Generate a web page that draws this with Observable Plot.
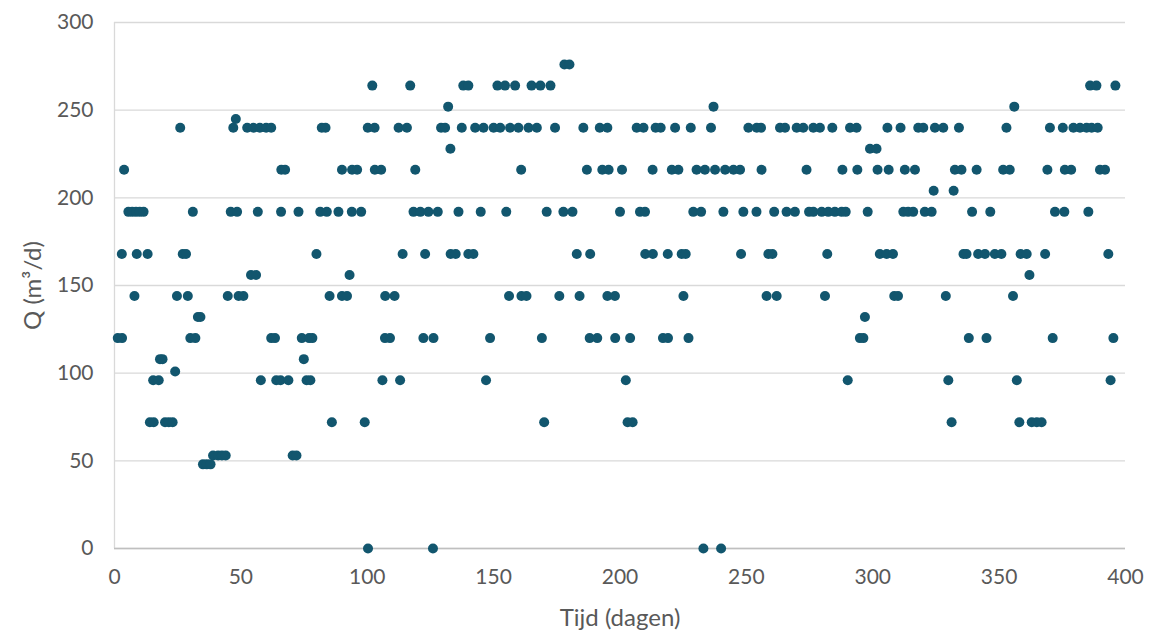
<!DOCTYPE html>
<html>
<head>
<meta charset="utf-8">
<script src="https://cdn.jsdelivr.net/npm/d3@7"></script>
<script src="https://cdn.jsdelivr.net/npm/@observablehq/plot@0.6"></script>
<style>
  html, body { margin: 0; padding: 0; background: #ffffff; }
  #chart { width: 1150px; height: 636px; }
</style>
</head>
<body>
<div id="chart"></div>
<script>
// Tick labels
const xTicks = [0, 50, 100, 150, 200, 250, 300, 350, 400];
const yTicks = [0, 50, 100, 150, 200, 250, 300];
const xTitle = "Tijd (dagen)";
const yTitle = "Q (m³/d)";

// Days (tijd) for each discharge level (Q in m3/d)
const d276 = [178, 180];
const d264 = [102, 117, 138, 140, 151.5, 154.5, 158.5, 165, 168.5, 172.5, 386, 388.5, 396];
const d252 = [132, 237, 356];
const d245 = [48];
const d240 = [26, 47, 52.5, 55, 57.5, 60, 62, 82, 83.5, 100.2, 102.9, 112.4, 115.7, 129.2, 130.8, 137.4,
  142.7, 146, 150, 152.6, 156.5, 159.8, 163.8, 167.1, 174.3, 185.5, 192, 195, 206.6, 209.3, 214.1, 216.1,
  221.8, 228, 236, 250.8, 254.1, 255.8, 263.3, 265.3, 269.9, 272.5, 276.5, 279.1, 284, 291, 293.6, 305.8,
  311, 318, 320, 324.6, 327.9, 334.1, 352.9, 370.1, 375.2, 379.4, 382, 384.6, 386.6, 389];
const d228 = [132.9, 298.9, 301.5];
const d216 = [3.8, 66, 67.5, 90, 94, 96, 103, 105.5, 119, 160.9, 186.9, 193, 195.5, 200.8, 212.9, 220.5,
  223.1, 230.3, 233.6, 237.6, 241.6, 244.9, 247.5, 256, 273.8, 288, 293.9, 301.9, 306.3, 312.7, 316.7,
  332.5, 335.1, 341.1, 351.6, 354.2, 369.1, 376, 378.5, 389.9, 391.9];
const d204 = [324.1, 332];
const d192 = [5.5, 7, 8.5, 10, 11.5, 31, 46, 48.5, 56.7, 65.9, 72.8, 81.4, 84, 88.6, 93.9, 97.6, 118.3, 121,
  124.2, 127.9, 136.1, 144.9, 155, 171, 177.6, 181.2, 200, 207.9, 209.9, 229, 232.1, 240.9, 248.8, 254,
  261, 265.9, 269.2, 274.8, 276.5, 279.8, 282.4, 285, 287.7, 289.3, 298, 312.1, 314, 316, 320.6, 323.3,
  339.3, 346.5, 372.1, 375.8, 385.3];
const d168 = [2.9, 8.8, 13.1, 27, 28.3, 79.9, 114, 122.9, 133, 135, 140, 142, 182.9, 188.2, 210, 213,
  218.9, 224.4, 226, 247.9, 258.7, 260.3, 282, 302.8, 305.5, 308, 335.9, 337.1, 341.7, 344.4, 348.3, 350.9,
  358.5, 360.9, 368.2, 393.2];
const d156 = [54, 56, 93, 362];
const d144 = [7.9, 24.7, 29, 44.8, 49.1, 51, 85.1, 90, 92, 107.1, 110.8, 156.1, 161, 163, 176, 184, 195,
  198, 225.1, 258, 262, 281.1, 308.5, 310, 328.9, 355.5];
const d132 = [33, 34, 296.9];
const d120 = [1.3, 3, 30, 32, 62, 63.5, 74.1, 77, 78.3, 107, 109, 122.2, 126.2, 148.6, 169.1, 188, 191,
  198.1, 204, 217, 219, 227.1, 294.9, 296.3, 338, 345, 371.2, 395.2];
const d108 = [18, 19, 74.9];
const d101 = [24];
const d96 = [15.3, 17.5, 57.9, 64, 65.7, 68.8, 76, 77.5, 106, 113, 147, 202.3, 290.1, 329.9, 357, 394.1];
const d72 = [14, 15.5, 20, 21.5, 23, 86, 99, 170, 203, 205, 331.2, 358, 362.9, 364.9, 366.8];
const d53 = [39, 41, 42.5, 44, 70.5, 72];
const d48 = [35, 36.5, 38];
const d0 = [100.3, 126, 233, 240];

const levels = [276, 264, 252, 245, 240, 228, 216, 204, 192, 168, 156, 144, 132, 120, 108, 101, 96, 72, 53, 48, 0];
const dayLists = [d276, d264, d252, d245, d240, d228, d216, d204, d192, d168, d156, d144, d132, d120, d108, d101, d96, d72, d53, d48, d0];

const points = [];
levels.forEach((q, i) => dayLists[i].forEach(t => points.push({tijd: t, Q: q})));

const textColor = "#595959";
const font = "'Century Gothic', Lato, 'Open Sans', sans-serif";

const chart = Plot.plot({
  width: 1150,
  height: 636,
  marginLeft: 114,
  marginRight: 25,
  marginTop: 22,
  marginBottom: 88,
  style: { fontFamily: font, fontSize: "21px", color: textColor, background: "#ffffff" },
  x: { domain: [0, 400] },
  y: { domain: [0, 300] },
  marks: [
    Plot.gridY(yTicks, { stroke: "#d9d9d9", strokeOpacity: 1, strokeWidth: 1.3 }),
    Plot.ruleX([0], { stroke: "#d9d9d9", strokeWidth: 1.3 }),
    Plot.ruleY([0], { stroke: "#bfbfbf", strokeWidth: 1.5 }),
    Plot.dot(points, { x: "tijd", y: "Q", r: 5, fill: "#12566e", stroke: null }),
    Plot.axisX(xTicks, {
      tickSize: 0, tickPadding: 21, fontSize: 21, fill: textColor, label: null
    }),
    Plot.axisY(yTicks, {
      tickSize: 0, tickPadding: 21, fontSize: 21, fill: textColor, label: null
    }),
    Plot.text([xTitle], {
      frameAnchor: "bottom", dy: 70, fontSize: 24, fill: textColor, lineAnchor: "middle", textAnchor: "middle"
    }),
    Plot.text([yTitle], {
      frameAnchor: "left", dx: -81, rotate: -90, fontSize: 24, fill: textColor, lineAnchor: "middle", textAnchor: "middle"
    })
  ]
});

document.getElementById("chart").appendChild(chart);
</script>
</body>
</html>
